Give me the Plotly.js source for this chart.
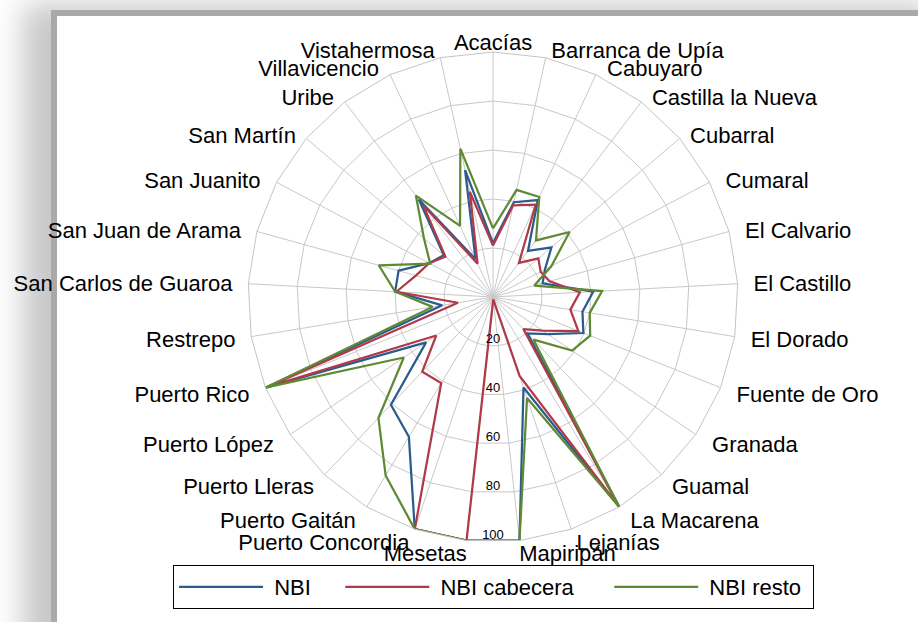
<!DOCTYPE html>
<html><head><meta charset="utf-8">
<script src="https://cdn.plot.ly/plotly-3.0.1.min.js"></script>
<style>
html,body{margin:0;padding:0;background:#fff;width:918px;height:622px;overflow:hidden;}
#frame{position:absolute;left:57px;top:16px;width:900px;height:700px;background:#fff;
 box-shadow:-6px -6px 0 0 #a9a9a9, -30px -8px 28px 4px rgba(0,0,0,0.22);}
#chart{position:absolute;left:0;top:0;width:918px;height:622px;}
</style></head>
<body><div id="frame"></div><div id="chart"></div>
<script>
const categories = ["Acacías","Barranca de Upía","Cabuyaro","Castilla la Nueva","Cubarral","Cumaral",
  "El Calvario","El Castillo","El Dorado","Fuente de Oro","Granada","Guamal","La Macarena","Lejanías",
  "Mapiripán","Mesetas","Puerto Concordia","Puerto Gaitán","Puerto Lleras","Puerto López","Puerto Rico",
  "Restrepo","San Carlos de Guaroa","San Juan de Arama","San Juanito","San Martín","Uribe",
  "Villavicencio","Vistahermosa"];
const nbi         = [22, 39.6, 43.6, 23.6, 31.3, 24, 21, 41, 37, 39.7, 27, 20.5, 100, 39, 100, 100, 100, 66.6, 60.6, 33, 100, 21, 40, 40, 29.5, 26.4, 50, 17, 53];
const nbiCabecera = [21, 38.3, 41.5, 17.5, 24.3, 22, 24, 35.5, 32, 37.5, 24.4, 18, 100, 34, 1, 100, 100, 41, 42, 28, 100, 14.5, 39.5, 32.7, 29.5, 25.5, 47, 15, 44];
const nbiResto    = [28, 44.8, 45, 29, 41, 27, 17.5, 44.6, 40, 42.7, 39, 24, 100, 43.5, 100, 100, 100, 85, 68, 44, 100, 25, 40, 48.4, 29, 37, 52, 32, 62];
const radialTicks = [20, 40, 60, 80, 100];
const seriesNames = ["NBI", "NBI cabecera", "NBI resto"];
const seriesColors = ["#2B5C8E", "#B03A48", "#5E8A33"];

const FONT = "Liberation Sans, Arial, sans-serif";
const NB = "\u00a0";
const closeLoop = a => a.concat([a[0]]);

// angular labels: extra horizontal padding on the sides, like the original
const n = categories.length;
const angTickText = categories.map((c, i) => {
  const s = Math.abs(Math.sin(2 * Math.PI * i / n));
  const k = s < 0.15 ? 0 : Math.round((4 + 14.5 * s) / 6.1);
  const pad = NB.repeat(k);
  return (i / n < 0.5) ? pad + c : c + pad;
});
// legend spacing
const legendPad = [4, 5, 1];
const legendNames = seriesNames.map((s, i) => NB + s + NB.repeat(legendPad[i]));

const traces = [nbi, nbiCabecera, nbiResto].map((vals, i) => ({
  type: "scatterpolar",
  subplot: "polar",
  mode: "lines",
  name: legendNames[i],
  r: closeLoop(vals),
  theta: closeLoop(categories),
  line: {color: seriesColors[i], width: 2.25},
  hoverinfo: "skip"
}));
// helper (invisible) trace that carries the category labels ring
traces.push({
  type: "scatterpolar", subplot: "polar2", mode: "markers",
  r: categories.map(() => 0), theta: categories,
  marker: {opacity: 0, size: 1}, showlegend: false, hoverinfo: "skip"
});
// radial tick labels drawn along the downward axis
traces.push({
  type: "scatterpolar",
  subplot: "polar3",
  mode: "text",
  r: radialTicks,
  theta: radialTicks.map(() => 180),
  text: radialTicks.map(String),
  textposition: "top center",
  textfont: {family: FONT, size: 13, color: "#000"},
  showlegend: false,
  hoverinfo: "skip"
});

const dom = {x: [248/918, 738/918], y: [80/622, 570/622]};
const domLabels = {x: [251/918, 735/918], y: [83/622, 567/622]};
const hiddenRadial = {range: [0, 100], showgrid: false, showline: false, showticklabels: false, ticks: ""};
const layout = {
  width: 918, height: 622,
  margin: {l: 0, r: 0, t: 0, b: 0},
  paper_bgcolor: "rgba(0,0,0,0)",
  plot_bgcolor: "rgba(0,0,0,0)",
  font: {family: FONT, color: "#000", size: 22},
  showlegend: true,
  legend: {
    orientation: "h", x: 0.1885, y: 0.0916, xanchor: "left", yanchor: "top",
    bordercolor: "#000", borderwidth: 1, bgcolor: "#fff",
    font: {family: FONT, size: 22, color: "#000"}, itemwidth: 84
  },
  polar: {
    domain: dom,
    bgcolor: "rgba(0,0,0,0)",
    gridshape: "linear",
    angularaxis: {
      type: "category", categoryarray: categories, direction: "clockwise", rotation: 90,
      showline: true, linecolor: "#c4c4c4", linewidth: 1,
      gridcolor: "#c8c8c8", gridwidth: 1, ticks: "", showticklabels: false
    },
    radialaxis: {
      range: [0, 100], tickvals: radialTicks,
      angle: -90, showline: false, ticks: "", showticklabels: false,
      gridcolor: "#c8c8c8", gridwidth: 1
    }
  },
  polar2: {
    domain: domLabels,
    bgcolor: "rgba(0,0,0,0)",
    angularaxis: {
      type: "category", categoryarray: categories, direction: "clockwise", rotation: 90,
      tickmode: "array", tickvals: categories, ticktext: angTickText,
      showgrid: false, showline: false, ticks: "",
      tickfont: {family: FONT, size: 22, color: "#000"}
    },
    radialaxis: hiddenRadial
  },
  polar3: {
    domain: dom,
    bgcolor: "rgba(0,0,0,0)",
    angularaxis: {direction: "clockwise", rotation: 90, showgrid: false, showline: false,
      showticklabels: false, ticks: ""},
    radialaxis: hiddenRadial
  }
};
Plotly.newPlot("chart", traces, layout, {displayModeBar: false, staticPlot: true});
</script>
</body></html>
